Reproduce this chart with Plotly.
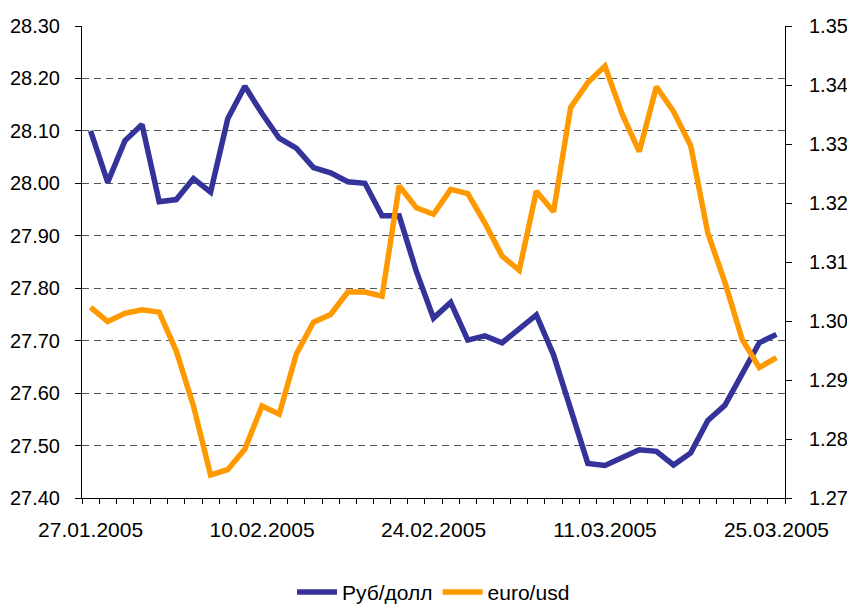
import plotly.graph_objects as go

dates = ["27.01.2005", "28.01.2005", "31.01.2005",
         "01.02.2005", "02.02.2005", "03.02.2005", "04.02.2005", "07.02.2005",
         "08.02.2005", "09.02.2005", "10.02.2005", "11.02.2005", "14.02.2005",
         "15.02.2005", "16.02.2005", "17.02.2005", "18.02.2005", "21.02.2005",
         "22.02.2005", "23.02.2005", "24.02.2005", "25.02.2005", "28.02.2005",
         "01.03.2005", "02.03.2005", "03.03.2005", "04.03.2005", "07.03.2005",
         "09.03.2005", "10.03.2005", "11.03.2005", "14.03.2005", "15.03.2005",
         "16.03.2005", "17.03.2005", "18.03.2005", "21.03.2005", "22.03.2005",
         "23.03.2005", "24.03.2005", "25.03.2005"]

rub_usd = [28.100, 28.002, 28.081, 28.112, 27.965, 27.969, 28.009, 27.983, 28.123, 28.185,
           28.133, 28.086, 28.067, 28.030, 28.020, 28.003, 28.000, 27.938, 27.938, 27.832,
           27.743, 27.773, 27.701, 27.709, 27.696, 27.724, 27.749, 27.673, 27.567, 27.466,
           27.462, 27.478, 27.492, 27.489, 27.463, 27.486, 27.548, 27.577, 27.636, 27.696,
           27.712]

euro_usd = [1.3023, 1.2999, 1.3013, 1.3019, 1.3015, 1.2949, 1.2856, 1.2739, 1.2748, 1.2783,
            1.2856, 1.2842, 1.2944, 1.2998, 1.3011, 1.3049, 1.3049, 1.3042, 1.3229, 1.3192,
            1.3181, 1.3223, 1.3216, 1.3166, 1.3110, 1.3086, 1.3220, 1.3185, 1.3362, 1.3404,
            1.3432, 1.3351, 1.3287, 1.3397, 1.3355, 1.3297, 1.3149, 1.3065, 1.2969, 1.2921,
            1.2938]

label_dates = ["27.01.2005", "10.02.2005", "24.02.2005", "11.03.2005", "25.03.2005"]
left_ticks = [27.40, 27.50, 27.60, 27.70, 27.80, 27.90, 28.00, 28.10, 28.20, 28.30]
right_ticks = [1.27, 1.28, 1.29, 1.30, 1.31, 1.32, 1.33, 1.34, 1.35]

series_names = ["Руб/долл", "euro/usd"]
colors = ["#333399", "#FF9900"]

idx = list(range(len(dates)))
label_idx = [dates.index(d) for d in label_dates]
boundaries = [i - 0.5 for i in range(len(dates) + 1)]

font = "Liberation Sans, Arial, sans-serif"

fig = go.Figure()
fig.add_trace(go.Scatter(x=idx, y=rub_usd, name=series_names[0], mode="lines",
                         line=dict(color=colors[0], width=5.5), yaxis="y"))
fig.add_trace(go.Scatter(x=idx, y=euro_usd, name=series_names[1], mode="lines",
                         line=dict(color=colors[1], width=5.5), yaxis="y2"))

fig.update_layout(
    template="none",
    width=847, height=604,
    margin=dict(l=82, r=62, t=26, b=106, autoexpand=False),
    paper_bgcolor="white", plot_bgcolor="white",
    font=dict(family=font, size=20, color="black"),
    showlegend=True,
    legend=dict(orientation="h", x=0.5, xanchor="center", y=-0.2, yanchor="middle",
                font=dict(size=21), itemwidth=40, tracegroupgap=0),
    xaxis=dict(
        automargin=False,
        range=[-0.5, len(dates) - 0.5],
        tickmode="array", tickvals=label_idx, ticktext=label_dates,
        ticks="", showgrid=False, zeroline=False,
        showline=True, linecolor="black", linewidth=1,
        tickfont=dict(size=21), ticklabelstandoff=13,
        minor=dict(tickmode="array", tickvals=boundaries, ticks="outside",
                   ticklen=5, tickcolor="black", tickwidth=1, showgrid=False),
    ),
    yaxis=dict(
        automargin=False,
        range=[27.40, 28.30],
        tickmode="array", tickvals=left_ticks, ticktext=[f"{v:.2f}" for v in left_ticks],
        ticks="outside", ticklen=6, tickcolor="black",
        showgrid=False, zeroline=False,
        showline=True, linecolor="black", linewidth=1,
        ticklabelstandoff=11,
        minor=dict(tickmode="array", tickvals=left_ticks[1:-1], ticks="",
                   showgrid=True, gridcolor="#555555", gridwidth=1, griddash="7px,5px"),
    ),
    yaxis2=dict(
        automargin=False,
        range=[1.27, 1.35], overlaying="y", side="right",
        tickmode="array", tickvals=right_ticks, ticktext=[f"{v:.2f}" for v in right_ticks],
        ticks="outside", ticklen=6, tickcolor="black",
        showgrid=False, zeroline=False,
        showline=True, linecolor="black", linewidth=1,
        ticklabelstandoff=13,
    ),
)

fig.write_html(
    "out.html",
    config={"displayModeBar": False},
    post_script="document.body.style.margin='0';document.body.style.overflow='hidden';",
)
